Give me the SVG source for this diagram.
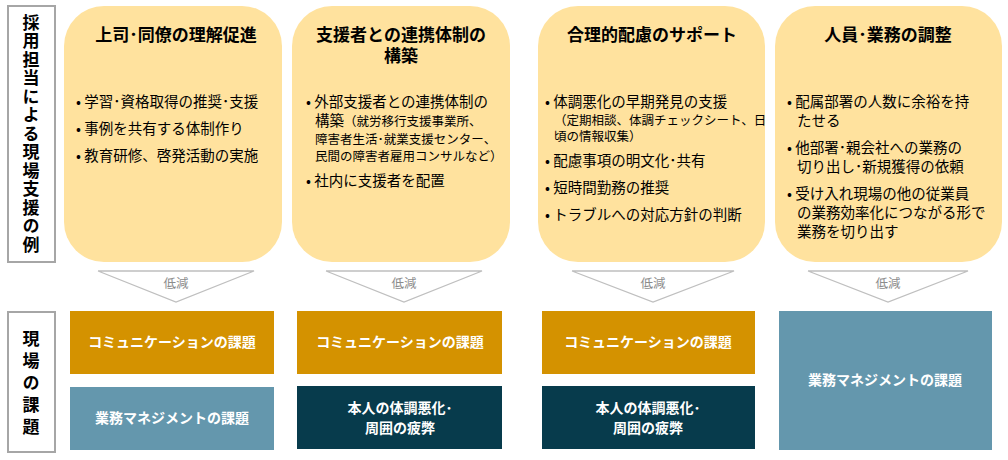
<svg xmlns="http://www.w3.org/2000/svg" width="1008" height="460" viewBox="0 0 1008 460">
<style>
text{font-family:"Noto Sans CJK JP","Noto Sans",sans-serif}
.lbl{fill:#fff;stroke:#a6a6a6;stroke-width:2}
.lt{font-size:17px;font-weight:bold;fill:#000;writing-mode:vertical-rl;text-orientation:upright}
.card{fill:#FFE29E}
.ttl{font-size:17px;font-weight:bold;text-anchor:middle;fill:#000}
.b{font-size:14.5px;fill:#000}
.s{font-size:12.5px;fill:#000}
.chev{fill:none;stroke:#bfbfbf;stroke-width:1.3}
.red{font-size:12.5px;fill:#8c8c8c;text-anchor:middle}
.bt{font-size:14px;font-weight:bold;fill:#fff;text-anchor:middle}
</style>
<g id="label-top"><rect class="lbl" x="8" y="6" width="47" height="256"/>
<text class="lt" x="31" y="14" letter-spacing="1.5">採用担当による現場支援の例</text></g>
<g id="label-bottom"><rect class="lbl" x="8" y="312" width="47" height="140"/>
<text class="lt" x="31" y="330" letter-spacing="5">現場の課題</text></g>
<g id="card1"><rect class="card" x="64" y="6" width="218" height="256" rx="40"/>
<text class="ttl" x="176" y="41">上司･同僚の理解促進</text>
<text class="b"><tspan x="76" y="107">• 学習･資格取得の推奨･支援</tspan><tspan x="76" y="134">• 事例を共有する体制作り</tspan><tspan x="76" y="161">• 教育研修、啓発活動の実施</tspan></text></g>
<g id="card2"><rect class="card" x="292" y="6" width="218" height="256" rx="40"/>
<text class="ttl"><tspan x="401" y="41">支援者との連携体制の</tspan><tspan x="401" y="62">構築</tspan></text>
<text class="b"><tspan x="306" y="107">• 外部支援者との連携体制の</tspan><tspan x="315" y="126">構築</tspan><tspan class="s">（就労移行支援事業所、</tspan><tspan class="s" x="315" y="144">障害者生活･就業支援センター、</tspan><tspan class="s" x="315" y="161">民間の障害者雇用コンサルなど）</tspan><tspan x="306" y="186">• 社内に支援者を配置</tspan></text></g>
<g id="card3"><rect class="card" x="538" y="6" width="227" height="256" rx="40"/>
<text class="ttl" x="652" y="41">合理的配慮のサポート</text>
<text class="b"><tspan x="545" y="107">• 体調悪化の早期発見の支援</tspan><tspan class="s" x="554" y="125">（定期相談、体調チェックシート、日</tspan><tspan class="s" x="554" y="141">頃の情報収集）</tspan><tspan x="545" y="166">• 配慮事項の明文化･共有</tspan><tspan x="545" y="193">• 短時間勤務の推奨</tspan><tspan x="545" y="220">• トラブルへの対応方針の判断</tspan></text></g>
<g id="card4"><rect class="card" x="775" y="6" width="227" height="256" rx="40"/>
<text class="ttl" x="888" y="41">人員･業務の調整</text>
<text class="b"><tspan x="787" y="107">• 配属部署の人数に余裕を持</tspan><tspan x="797" y="126">たせる</tspan><tspan x="787" y="153">• 他部署･親会社への業務の</tspan><tspan x="797" y="172">切り出し･新規獲得の依頼</tspan><tspan x="787" y="199">• 受け入れ現場の他の従業員</tspan><tspan x="797" y="218">の業務効率化につながる形で</tspan><tspan x="797" y="237">業務を切り出す</tspan></text></g>
<g id="connectors">
<polyline class="chev" points="98,271 254,271 176,302 98,271"/><text class="red" x="176" y="288">低減</text>
<polyline class="chev" points="326,271 482,271 404,302 326,271"/><text class="red" x="404" y="288">低減</text>
<polyline class="chev" points="572,271 734,271 653,302 572,271"/><text class="red" x="653" y="288">低減</text>
<polyline class="chev" points="808,271 968,271 888,302 808,271"/><text class="red" x="888" y="288">低減</text>
</g>
<g id="c1a"><rect x="70" y="311" width="204" height="63" fill="#D49200"/><text class="bt" x="172" y="347">コミュニケーションの課題</text></g>
<g id="c1b"><rect x="70" y="387" width="204" height="63" fill="#6497AD"/><text class="bt" x="172" y="423">業務マネジメントの課題</text></g>
<g id="c2a"><rect x="297" y="311" width="205" height="63" fill="#D49200"/><text class="bt" x="400" y="347">コミュニケーションの課題</text></g>
<g id="c2b"><rect x="297" y="386" width="205" height="63" fill="#073B4C"/><text class="bt"><tspan x="400" y="413">本人の体調悪化･</tspan><tspan x="400" y="433">周囲の疲弊</tspan></text></g>
<g id="c3a"><rect x="542" y="311" width="213" height="63" fill="#D49200"/><text class="bt" x="648" y="347">コミュニケーションの課題</text></g>
<g id="c3b"><rect x="542" y="386" width="213" height="63" fill="#073B4C"/><text class="bt"><tspan x="648" y="413">本人の体調悪化･</tspan><tspan x="648" y="433">周囲の疲弊</tspan></text></g>
<g id="c4"><rect x="779" y="311" width="213" height="139" fill="#6497AD"/><text class="bt" x="885" y="385">業務マネジメントの課題</text></g>
</svg>
